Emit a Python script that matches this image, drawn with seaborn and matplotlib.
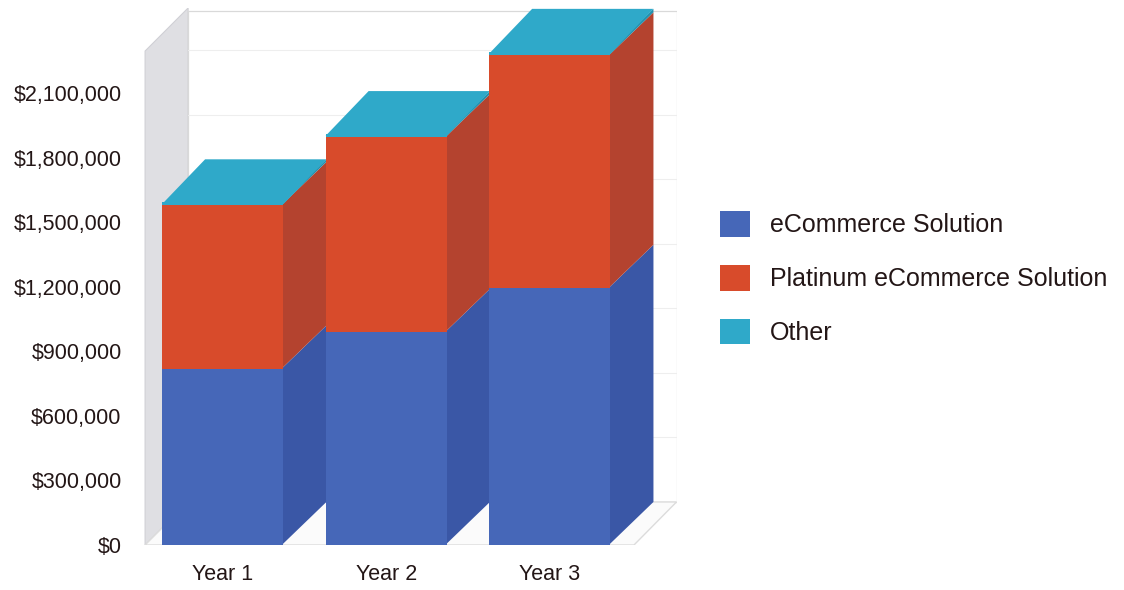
import matplotlib
matplotlib.use("Agg")
import matplotlib.pyplot as plt
from matplotlib.patches import Polygon, Patch
import seaborn as sns
import pandas as pd

# Revenue by product line per year
years = ["Year 1", "Year 2", "Year 3"]
ecommerce = [820000, 990000, 1195000]
platinum = [760000, 905000, 1080000]
other = [12000, 14000, 16000]
series_names = ["eCommerce Solution", "Platinum eCommerce Solution", "Other"]
y_ticks = [0, 300000, 600000, 900000, 1200000, 1500000, 1800000, 2100000]

# Face colours: (front, side) per series
front_cols = ["#4667b8", "#d84b2b", "#2fa9c9"]
side_cols = ["#3a57a6", "#b4432f", "#2590ad"]

sns.set_theme(style="white")
plt.rcParams["font.family"] = ["Liberation Sans", "DejaVu Sans"]
text_col = "#231616"

fig = plt.figure(figsize=(11.24, 5.90), dpi=100)
ax = fig.add_axes([141 / 1124, 45 / 590, 536 / 1124, 537 / 590])

bar_w = 0.742
dx = 0.263          # depth offset along x (category units)
dy = 200000         # depth offset along y (value units)
x_lo, x_hi = -0.5, 2.778
y_hi = 2495000
wall_x = -0.475

# Walls and floor of the 3D box
side_wall = Polygon([(wall_x, 0), (wall_x + dx, dy), (wall_x + dx, y_hi),
                     (wall_x, y_hi - dy)], closed=True,
                    facecolor="#dfdfe3", edgecolor="#d0d0d5", lw=0.8, zorder=0)
back_wall = Polygon([(wall_x + dx, dy), (x_hi - 0.003, dy), (x_hi - 0.003, y_hi - 15000),
                     (wall_x + dx, y_hi - 15000)], closed=True,
                    facecolor="white", edgecolor="#d9d9d9", lw=0.9, zorder=0)
floor = Polygon([(wall_x, 0), (x_hi - dx, 0), (x_hi - 0.003, dy), (wall_x + dx, dy)],
                closed=True, facecolor="#fbfbfb", edgecolor="#dcdcdc", lw=1.0, zorder=0.5)
for p in (side_wall, back_wall, floor):
    ax.add_patch(p)
for t in y_ticks[1:]:
    if t + dy < y_hi:
        ax.plot([wall_x + dx, x_hi - 0.003], [t + dy, t + dy], color="#eeeeee", lw=0.8, zorder=0.2)

# Side and top faces, drawn left to right (tucked slightly under the fronts)
stacks = [ecommerce, platinum, other]
tuck = 0.01
for i in range(len(years)):
    xr = i + bar_w / 2
    xl = i - bar_w / 2
    base = 0
    for s, vals in enumerate(stacks):
        top = base + vals[i]
        ax.add_patch(Polygon([(xr - tuck, base), (xr + dx, base + dy), (xr + dx, top + dy), (xr - tuck, top)],
                             closed=True, facecolor=side_cols[s], edgecolor="none", zorder=2))
        base = top
    ax.add_patch(Polygon([(xl, base - 8000), (xr, base - 8000), (xr + dx, base + dy), (xl + dx, base + dy)],
                         closed=True, facecolor=front_cols[2], edgecolor="none", zorder=2))

# Front faces: cumulative stacks drawn back to front
cum_total = [a + b + c for a, b, c in zip(ecommerce, platinum, other)]
cum_two = [a + b for a, b in zip(ecommerce, platinum)]
for vals, col in ((cum_total, front_cols[2]), (cum_two, front_cols[1]), (ecommerce, front_cols[0])):
    df = pd.DataFrame({"year": years, "value": vals})
    sns.barplot(data=df, x="year", y="value", color=col, saturation=1, width=bar_w,
                edgecolor="none", linewidth=0, ax=ax, zorder=3)

ax.set_xlim(x_lo, x_hi)
ax.set_ylim(0, y_hi)
ax.set_xlabel("")
ax.set_ylabel("")
ax.set_yticks(y_ticks)
ax.set_yticklabels([f"${v:,.0f}" for v in y_ticks])
ax.set_xticks(range(len(years)))
ax.set_xticklabels(years)
ax.tick_params(axis="y", length=0, pad=14, labelsize=15.5, labelcolor=text_col)
ax.tick_params(axis="x", length=0, pad=14, labelsize=15.5, labelcolor=text_col)
for sp in ax.spines.values():
    sp.set_visible(False)
ax.set_facecolor("none")

handles = [Patch(facecolor=front_cols[k], edgecolor="none") for k in range(3)]
leg = fig.legend(handles, series_names, loc="center left", bbox_to_anchor=(720 / 1124, 312 / 590),
                 frameon=False, fontsize=18, handlelength=1.2, handleheight=1.2,
                 handletextpad=0.8, labelspacing=1.1, borderpad=0, borderaxespad=0)
for t in leg.get_texts():
    t.set_color(text_col)

fig.savefig("out.png", dpi=100, facecolor="white")
